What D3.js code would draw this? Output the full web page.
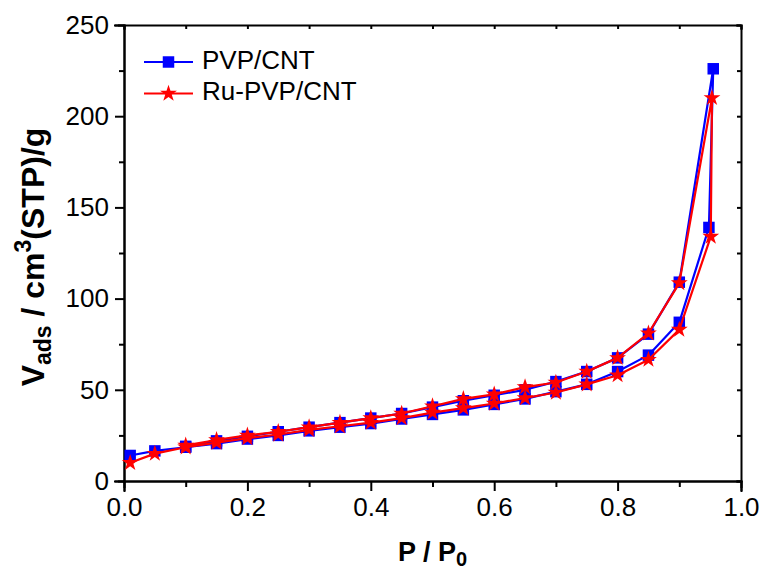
<!DOCTYPE html>
<html>
<head>
<meta charset="utf-8">
<script src="https://cdn.jsdelivr.net/npm/d3@7"></script>
<style>
  body { margin: 0; background: #fff; }
  svg { display: block; }
  text { font-family: "Liberation Sans", Arial, sans-serif; fill: #000; }
</style>
</head>
<body>
<svg id="chart" width="763" height="569"></svg>
<script>
// N2 sorption isotherms: adsorption branch up to P/P0 ~0.95, then desorption back down
const pvpP = [0.01, 0.05, 0.10, 0.15, 0.20, 0.25, 0.30, 0.35, 0.40, 0.45, 0.50, 0.55, 0.60, 0.65, 0.70, 0.75, 0.80, 0.85, 0.90, 0.948,
              0.955, 0.90, 0.85, 0.80, 0.75, 0.70, 0.65, 0.60, 0.55, 0.50, 0.45, 0.40, 0.35, 0.30, 0.25, 0.20, 0.15, 0.10];
const pvpV = [14, 16.5, 18.5, 20.5, 23, 25, 27.5, 29.5, 31.5, 34, 36.5, 39, 42, 45, 49, 53, 60, 69, 87, 139,
              226, 109, 80.5, 67.5, 60, 54.5, 50, 47, 44, 40.5, 37, 34.5, 32, 29.5, 27, 24.5, 22, 19];

const ruP = [0.01, 0.05, 0.10, 0.15, 0.20, 0.25, 0.30, 0.35, 0.40, 0.45, 0.50, 0.55, 0.60, 0.65, 0.70, 0.75, 0.80, 0.85, 0.90, 0.951,
             0.953, 0.90, 0.85, 0.80, 0.75, 0.70, 0.65, 0.60, 0.55, 0.50, 0.45, 0.40, 0.35, 0.30, 0.25, 0.20, 0.15, 0.10];
const ruV = [10, 15, 18.5, 21, 23.5, 25.5, 28, 30, 32, 34.5, 37.5, 40, 42.5, 45.5, 48.5, 53, 58, 66.5, 83, 134,
             210, 108.5, 81, 67.5, 60, 54, 51.5, 47.5, 45, 41, 37, 34.5, 32, 29.5, 27, 25, 22.5, 19.5];

const seriesNames = ["PVP/CNT", "Ru-PVP/CNT"];
const seriesColors = ["#0000ff", "#ff0000"];

const xMajorTicks = [0, 0.2, 0.4, 0.6, 0.8, 1.0];
const xMinorTicks = [0.1, 0.3, 0.5, 0.7, 0.9];
const yMajorTicks = [0, 50, 100, 150, 200, 250];
const yMinorTicks = [25, 75, 125, 175, 225];

const svg = d3.select("#chart");
const m = { left: 124, right: 741, top: 25, bottom: 481 };

const x = d3.scaleLinear().domain([0, 1]).range([m.left, m.right]);
const y = d3.scaleLinear().domain([0, 250]).range([m.bottom, m.top]);

const fontSize = 26;

// bottom axis: outward ticks + labels
svg.append("g").attr("transform", `translate(0,${m.bottom})`)
  .call(d3.axisBottom(x).tickValues(xMajorTicks).tickSize(10).tickPadding(7).tickFormat(d3.format(".1f")));
svg.append("g").attr("transform", `translate(0,${m.bottom})`)
  .call(d3.axisBottom(x).tickValues(xMinorTicks).tickSize(6).tickFormat(""));

// left axis
svg.append("g").attr("transform", `translate(${m.left},0)`)
  .call(d3.axisLeft(y).tickValues(yMajorTicks).tickSize(9).tickPadding(6).tickFormat(d3.format("d")));
svg.append("g").attr("transform", `translate(${m.left},0)`)
  .call(d3.axisLeft(y).tickValues(yMinorTicks).tickSize(5).tickFormat(""));

// top and right: inward ticks, no labels
svg.append("g").attr("transform", `translate(0,${m.top})`)
  .call(d3.axisTop(x).tickValues(xMajorTicks.concat(xMinorTicks)).tickSize(-4).tickFormat(""));
svg.append("g").attr("transform", `translate(${m.right},0)`)
  .call(d3.axisRight(y).tickValues(yMajorTicks.concat(yMinorTicks)).tickSize(-4).tickFormat(""));

svg.selectAll(".domain, .tick line").attr("stroke", "#000").attr("stroke-width", 2);
svg.selectAll(".domain").attr("stroke-linecap", "square");
svg.selectAll(".tick text").attr("font-size", fontSize).attr("font-family", '"Liberation Sans", Arial, sans-serif').attr("fill", "#000");

// series
const line = d3.line().x(d => x(d[0])).y(d => y(d[1]));
const squareSym = d3.symbol().type(d3.symbolSquare).size(132);
const starSym = d3.symbol().type(d3.symbolStar).size(88);

function drawSeries(px, vy, color, sym) {
  const pts = px.map((p, i) => [p, vy[i]]);
  const g = svg.append("g");
  g.append("path").datum(pts).attr("d", line)
    .attr("fill", "none").attr("stroke", color).attr("stroke-width", 2.2).attr("stroke-linejoin", "round");
  g.selectAll("path.mk").data(pts).join("path").attr("class", "mk")
    .attr("d", sym).attr("fill", color)
    .attr("transform", d => `translate(${x(d[0])},${y(d[1])})`);
}
drawSeries(pvpP, pvpV, seriesColors[0], squareSym);
drawSeries(ruP, ruV, seriesColors[1], starSym);

// legend
const legend = svg.append("g");
const legSyms = [squareSym, starSym];
seriesNames.forEach((name, i) => {
  const ly = 62 + i * 31.5;
  legend.append("line").attr("x1", 144).attr("x2", 193).attr("y1", ly).attr("y2", ly)
    .attr("stroke", seriesColors[i]).attr("stroke-width", 2.2);
  legend.append("path").attr("d", legSyms[i]).attr("fill", seriesColors[i])
    .attr("transform", `translate(168.5,${ly})`);
  legend.append("text").attr("x", 202).attr("y", ly + 6.5).attr("font-size", fontSize).text(name);
});

// axis titles
const xt = svg.append("text").attr("x", (m.left + m.right) / 2).attr("y", 561)
  .attr("text-anchor", "middle").attr("font-size", 27).attr("font-weight", "bold");
xt.append("tspan").text("P / P");
xt.append("tspan").attr("font-size", 20).attr("dy", 5).text("0");

const yt = svg.append("text")
  .attr("transform", `translate(44,${(m.top + m.bottom) / 2 + 4}) rotate(-90)`)
  .attr("text-anchor", "middle").attr("font-size", 32).attr("font-weight", "bold");
yt.append("tspan").text("V");
yt.append("tspan").attr("font-size", 23).attr("dy", 7).text("ads");
yt.append("tspan").attr("dy", -7).text(" / cm");
yt.append("tspan").attr("font-size", 23).attr("dy", -13).text("3");
yt.append("tspan").attr("dy", 13).text("(STP)/g");
</script>
</body>
</html>
